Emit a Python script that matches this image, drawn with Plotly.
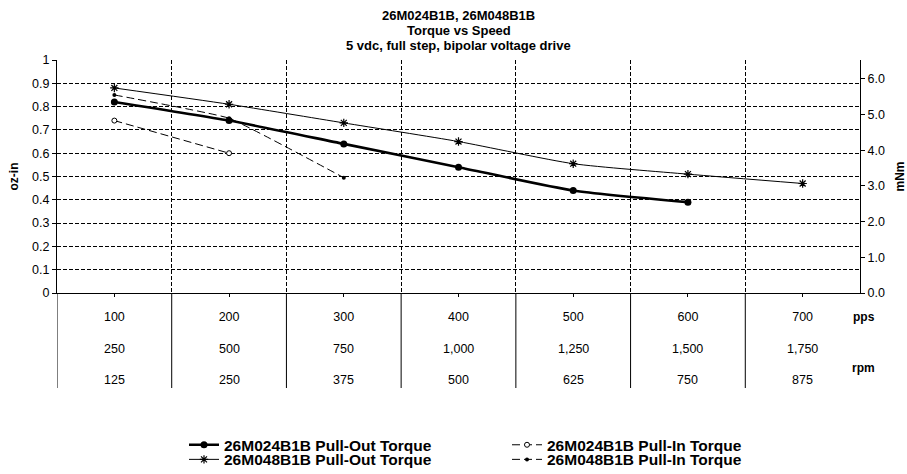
import plotly.graph_objects as go

# ---- data ----
pps = [100, 200, 300, 400, 500, 600, 700]
rpm_a = [250, 500, 750, 1000, 1250, 1500, 1750]
rpm_b = [125, 250, 375, 500, 625, 750, 875]

po_024_x = [100, 200, 300, 400, 500, 600]
po_024_y = [0.82, 0.74, 0.64, 0.54, 0.44, 0.39]

pi_024_x = [100, 200]
pi_024_y = [0.74, 0.60]

po_048_x = [100, 200, 300, 400, 500, 600, 700]
po_048_y = [0.88, 0.81, 0.73, 0.65, 0.555, 0.51, 0.47]

pi_048_x = [100, 200, 300]
pi_048_y = [0.85, 0.75, 0.495]

left_ticks = [0, 0.1, 0.2, 0.3, 0.4, 0.5, 0.6, 0.7, 0.8, 0.9, 1]
right_ticks = [0, 1, 2, 3, 4, 5, 6]
boundaries = [50, 150, 250, 350, 450, 550, 650]
title_lines = ["26M024B1B, 26M048B1B", "Torque vs Speed", "5 vdc, full step, bipolar voltage drive"]

FONT = "Liberation Sans, Arial, sans-serif"
DASHGRID = "4px,2px"
PLOT_W = 803
PLOT_H = 233

fig = go.Figure()
fig.add_trace(go.Scatter(
    x=po_024_x, y=po_024_y, name="<b>26M024B1B Pull-Out Torque</b>", legend="legend",
    mode="lines+markers", line=dict(color="black", width=2.6, shape="spline", smoothing=0.6),
    marker=dict(symbol="circle", size=7, color="black")))
fig.add_trace(go.Scatter(
    x=pi_024_x, y=pi_024_y, name="<b>26M024B1B Pull-In Torque</b>", legend="legend",
    mode="lines+markers", line=dict(color="black", width=1, dash="8px,4px"),
    marker=dict(symbol="circle", size=5, color="white", line=dict(color="black", width=1))))
fig.add_trace(go.Scatter(
    x=po_048_x, y=po_048_y, name="<b>26M048B1B Pull-Out Torque</b>", legend="legend2",
    mode="lines+markers", line=dict(color="black", width=1, shape="spline", smoothing=0.6),
    marker=dict(symbol="asterisk-open", size=7, color="black", line=dict(color="black", width=1.2))))
fig.add_trace(go.Scatter(
    x=pi_048_x, y=pi_048_y, name="<b>26M048B1B Pull-In Torque</b>", legend="legend2",
    mode="lines+markers", line=dict(color="black", width=1, dash="8px,4px", shape="spline", smoothing=0.3),
    marker=dict(symbol="circle", size=4, color="black")))
# invisible trace for the right axis
fig.add_trace(go.Scatter(x=[pps[0]], y=[0], yaxis="y2", mode="markers",
                         marker=dict(opacity=0), showlegend=False, hoverinfo="skip"))

# table vertical lines below x axis
for b in boundaries:
    fig.add_shape(type="line", xref="x", yref="paper", x0=b, x1=b, y0=0, y1=-95 / PLOT_H,
                  line=dict(color="black", width=1))

# rpm rows
for xv, a, b in zip(pps, rpm_a, rpm_b):
    fig.add_annotation(x=xv, y=0, xref="x", yref="paper", text=f"{a:,}", showarrow=False,
                       yanchor="middle", yshift=-56, font=dict(size=12.5, color="black", family=FONT))
    fig.add_annotation(x=xv, y=0, xref="x", yref="paper", text=f"{b:,}", showarrow=False,
                       yanchor="middle", yshift=-87, font=dict(size=12.5, color="black", family=FONT))

fig.add_annotation(x=(877 - 57) / PLOT_W, y=0, xref="paper", yref="paper", text="<b>pps</b>",
                   showarrow=False, yanchor="middle", yshift=-23.5,
                   font=dict(size=12, color="black", family=FONT))
fig.add_annotation(x=(877 - 57) / PLOT_W, y=0, xref="paper", yref="paper", text="<b>rpm</b>",
                   showarrow=False, yanchor="middle", yshift=-75,
                   font=dict(size=12, color="black", family=FONT))

# axis titles
fig.add_annotation(x=(13 - 57) / PLOT_W, y=0.5, xref="paper", yref="paper", text="<b>oz-in</b>",
                   textangle=-90, showarrow=False, xanchor="center", yanchor="middle",
                   font=dict(size=12, color="black", family=FONT))
fig.add_annotation(x=(899 - 57) / PLOT_W, y=0.5, xref="paper", yref="paper", text="<b>mNm</b>",
                   textangle=-90, showarrow=False, xanchor="center", yanchor="middle",
                   font=dict(size=12, color="black", family=FONT))

# title lines
for i, t in enumerate(title_lines):
    fig.add_annotation(x=0.5, y=1, xref="paper", yref="paper", text=f"<b>{t}</b>", showarrow=False,
                       xanchor="center", yanchor="middle", yshift=45 - 15 * i,
                       font=dict(size=13, color="black", family=FONT))

legend_common = dict(orientation="h", xanchor="left", yanchor="middle",
                     entrywidth=278, entrywidthmode="pixels", tracegroupgap=0,
                     font=dict(size=15.5, family=FONT, color="black"), bgcolor="rgba(0,0,0,0)")

fig.update_layout(
    width=907, height=474,
    margin=dict(l=57, r=47, t=60, b=181, autoexpand=False),
    paper_bgcolor="white", plot_bgcolor="white",
    font=dict(family=FONT, color="black", size=12.5),
    xaxis=dict(range=[50, 750], tickmode="array", tickvals=pps, ticktext=[str(v) for v in pps],
               showgrid=False, zeroline=False, showline=True, linecolor="black", linewidth=1.2,
               ticks="outside", ticklen=3, tickcolor="black", ticklabelstandoff=9,
               automargin=False,
               minor=dict(tickmode="array", tickvals=boundaries[1:], showgrid=True,
                          gridcolor="black", griddash=DASHGRID, gridwidth=1, ticks=""),
               fixedrange=True),
    yaxis=dict(range=[0, 1], tickmode="array", tickvals=left_ticks, showgrid=True,
               gridcolor="black", griddash=DASHGRID, gridwidth=1, zeroline=False,
               showline=True, linecolor="black", linewidth=1.2, ticks="outside", ticklen=4,
               tickcolor="black", automargin=False),
    yaxis2=dict(range=[0, 6.527], overlaying="y", side="right", tickmode="array",
                tickvals=right_ticks, tickformat=".1f", showgrid=False, zeroline=False,
                showline=True, linecolor="black", linewidth=1.2, ticks="outside", ticklen=4,
                tickcolor="black", automargin=False),
    legend=dict(x=(184 - 57) / PLOT_W, y=(293 - 445.2) / PLOT_H, **legend_common),
    legend2=dict(x=(184 - 57) / PLOT_W, y=(293 - 459.8) / PLOT_H, **legend_common),
    showlegend=True,
)

fig.write_html("out.html", config={"displayModeBar": False},
               post_script="document.body.style.margin='0px';")
